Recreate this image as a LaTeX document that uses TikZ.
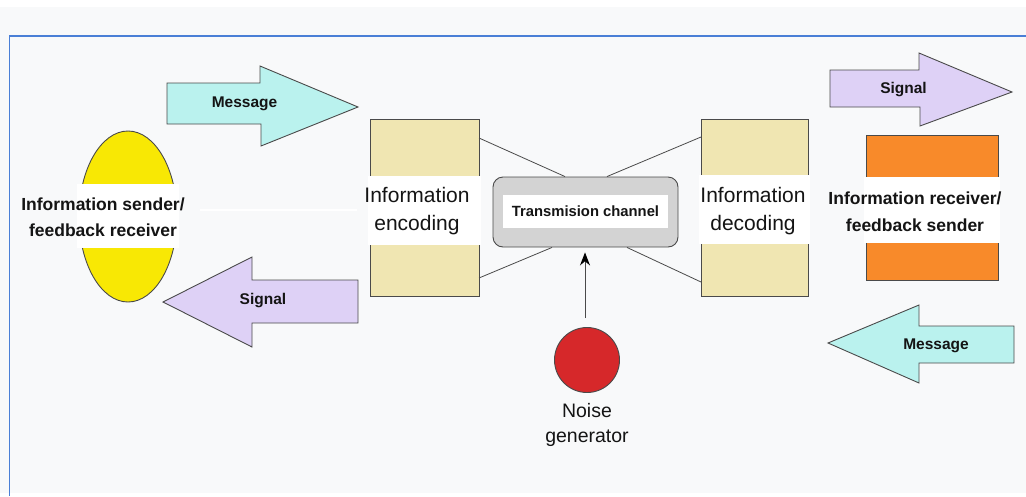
\documentclass[tikz,border=0pt]{standalone}
\usepackage{fontspec}
\setmainfont{Liberation Sans}
\usetikzlibrary{arrows.meta,shapes.geometric}
\definecolor{bgc}{HTML}{F8F9FA}
\definecolor{framec}{HTML}{4A7FD6}
\definecolor{cyanc}{HTML}{BAF2EE}
\definecolor{lavc}{HTML}{DED1F6}
\definecolor{yelc}{HTML}{F8E804}
\definecolor{encc}{HTML}{F0E6B2}
\definecolor{orgc}{HTML}{F88A2A}
\definecolor{chc}{HTML}{D3D3D3}
\definecolor{redc}{HTML}{D6282A}
\definecolor{linec}{HTML}{4A4A4A}
\definecolor{txtc}{HTML}{141414}
\tikzset{
  shapeline/.style={draw=linec, line width=0.9pt},
  boxshape/.style={shapeline, rectangle, inner sep=0pt, outer sep=0pt},
  conn/.style={draw=linec, line width=0.8pt},
  lbl/.style={text=txtc, inner sep=0pt, align=center},
  bigtxt/.style={lbl, font=\fontsize{21}{28}\selectfont},
  boldtxt/.style={lbl, font=\bfseries\fontsize{17.5}{26.5}\selectfont},
  arrtxt/.style={lbl, font=\bfseries\fontsize{15.5}{18}\selectfont},
}
\begin{document}
\begin{tikzpicture}[x=1pt,y=-1pt]
\useasboundingbox (0,0) rectangle (1026,496);
\fill[white] (0,0) rectangle (1026,496);
\fill[bgc] (0,7) rectangle (1026,493);
\draw[framec, line width=1.3pt] (1026,36) -- (9.5,36) -- (9.5,496);

% sender ellipse
\node[ellipse, shapeline, fill=yelc, minimum width=98pt, minimum height=171pt, inner sep=0pt] (snd) at (128,216.5) {};
\fill[white] (77,184) rectangle (179,248);
\node[boldtxt] (sndtext) at (103,217) {Information sender/\\feedback receiver};
\draw[white, line width=2.5pt] (200,210) -- (357,210);

% arrows left
\draw[shapeline, fill=cyanc] (167,83) -- (260,83) -- (260,66) -- (358,107) -- (261,146) -- (261,124) -- (167,124) -- cycle;
\node[arrtxt] (msg1) at (244.5,104) {Message};
\draw[shapeline, fill=lavc] (163,302) -- (252,257) -- (252,280) -- (358,280) -- (358,323) -- (252,323) -- (252,347) -- cycle;
\node[arrtxt] (sig1) at (263,301) {Signal};

% encoding
\node[boxshape, fill=encc, minimum width=109pt, minimum height=177pt] (enc) at (424.5,207.5) {};
\fill[white] (368,176) rectangle (481,245);
\node[bigtxt] (enctext) at (417,211) {Information\\encoding};

% decoding
\node[boxshape, fill=encc, minimum width=107pt, minimum height=177pt] (dec) at (754.5,207.5) {};
\fill[white] (699,175) rectangle (810,244);
\node[bigtxt] (dectext) at (753,211) {Information\\decoding};

% channel
\node[shapeline, rectangle, rounded corners=10pt, fill=chc, minimum width=185pt, minimum height=70pt, inner sep=0pt] (ch) at (585.5,212) {};
\node[lbl, fill=white, minimum width=165pt, minimum height=33pt, font=\bfseries\fontsize{14.8}{18}\selectfont] (chtext) at (585.5,211.5) {Transmision channel};

\draw[conn] ([yshift=-19pt]enc.north east) -- ([xshift=-20.5pt]ch.north);
\draw[conn] ([xshift=21.5pt]ch.north) -- ([yshift=-18pt]dec.north west);
\draw[conn] ([yshift=18pt]enc.south east) -- ([xshift=-33.5pt]ch.south);
\draw[conn] ([xshift=41.5pt]ch.south) -- ([yshift=14pt]dec.south west);

% noise
\node[circle, shapeline, fill=redc, minimum size=65pt, inner sep=0pt] (noise) at (587,360) {};
\node[lbl, font=\fontsize{19.5}{25}\selectfont] (noisetext) at (587,424.5) {Noise\\generator};
\draw[draw=linec, line width=0.9pt, -{Stealth[length=13pt,width=10pt,color=black]}, shorten <=9pt, shorten >=5pt] ([xshift=-2pt]noise.north) -- ([xshift=-2pt]noise.north |- ch.south);

% receiver
\node[boxshape, fill=orgc, minimum width=132pt, minimum height=145pt] (rcv) at (932,207.5) {};
\fill[white] (864,177) rectangle (1000,243);
\node[boldtxt] (rcvtext) at (915,211.5) {Information receiver/\\feedback sender};

% arrows right
\draw[shapeline, fill=lavc] (830,70) -- (919,70) -- (919,53) -- (1012,92) -- (920,126) -- (920,107) -- (830,107) -- cycle;
\node[arrtxt] (sig2) at (903.5,90) {Signal};
\draw[shapeline, fill=cyanc] (828,343) -- (919,305) -- (919,326) -- (1014,326) -- (1014,363) -- (919,363) -- (919,383) -- cycle;
\node[arrtxt] (msg2) at (936,346) {Message};
\end{tikzpicture}
\end{document}
